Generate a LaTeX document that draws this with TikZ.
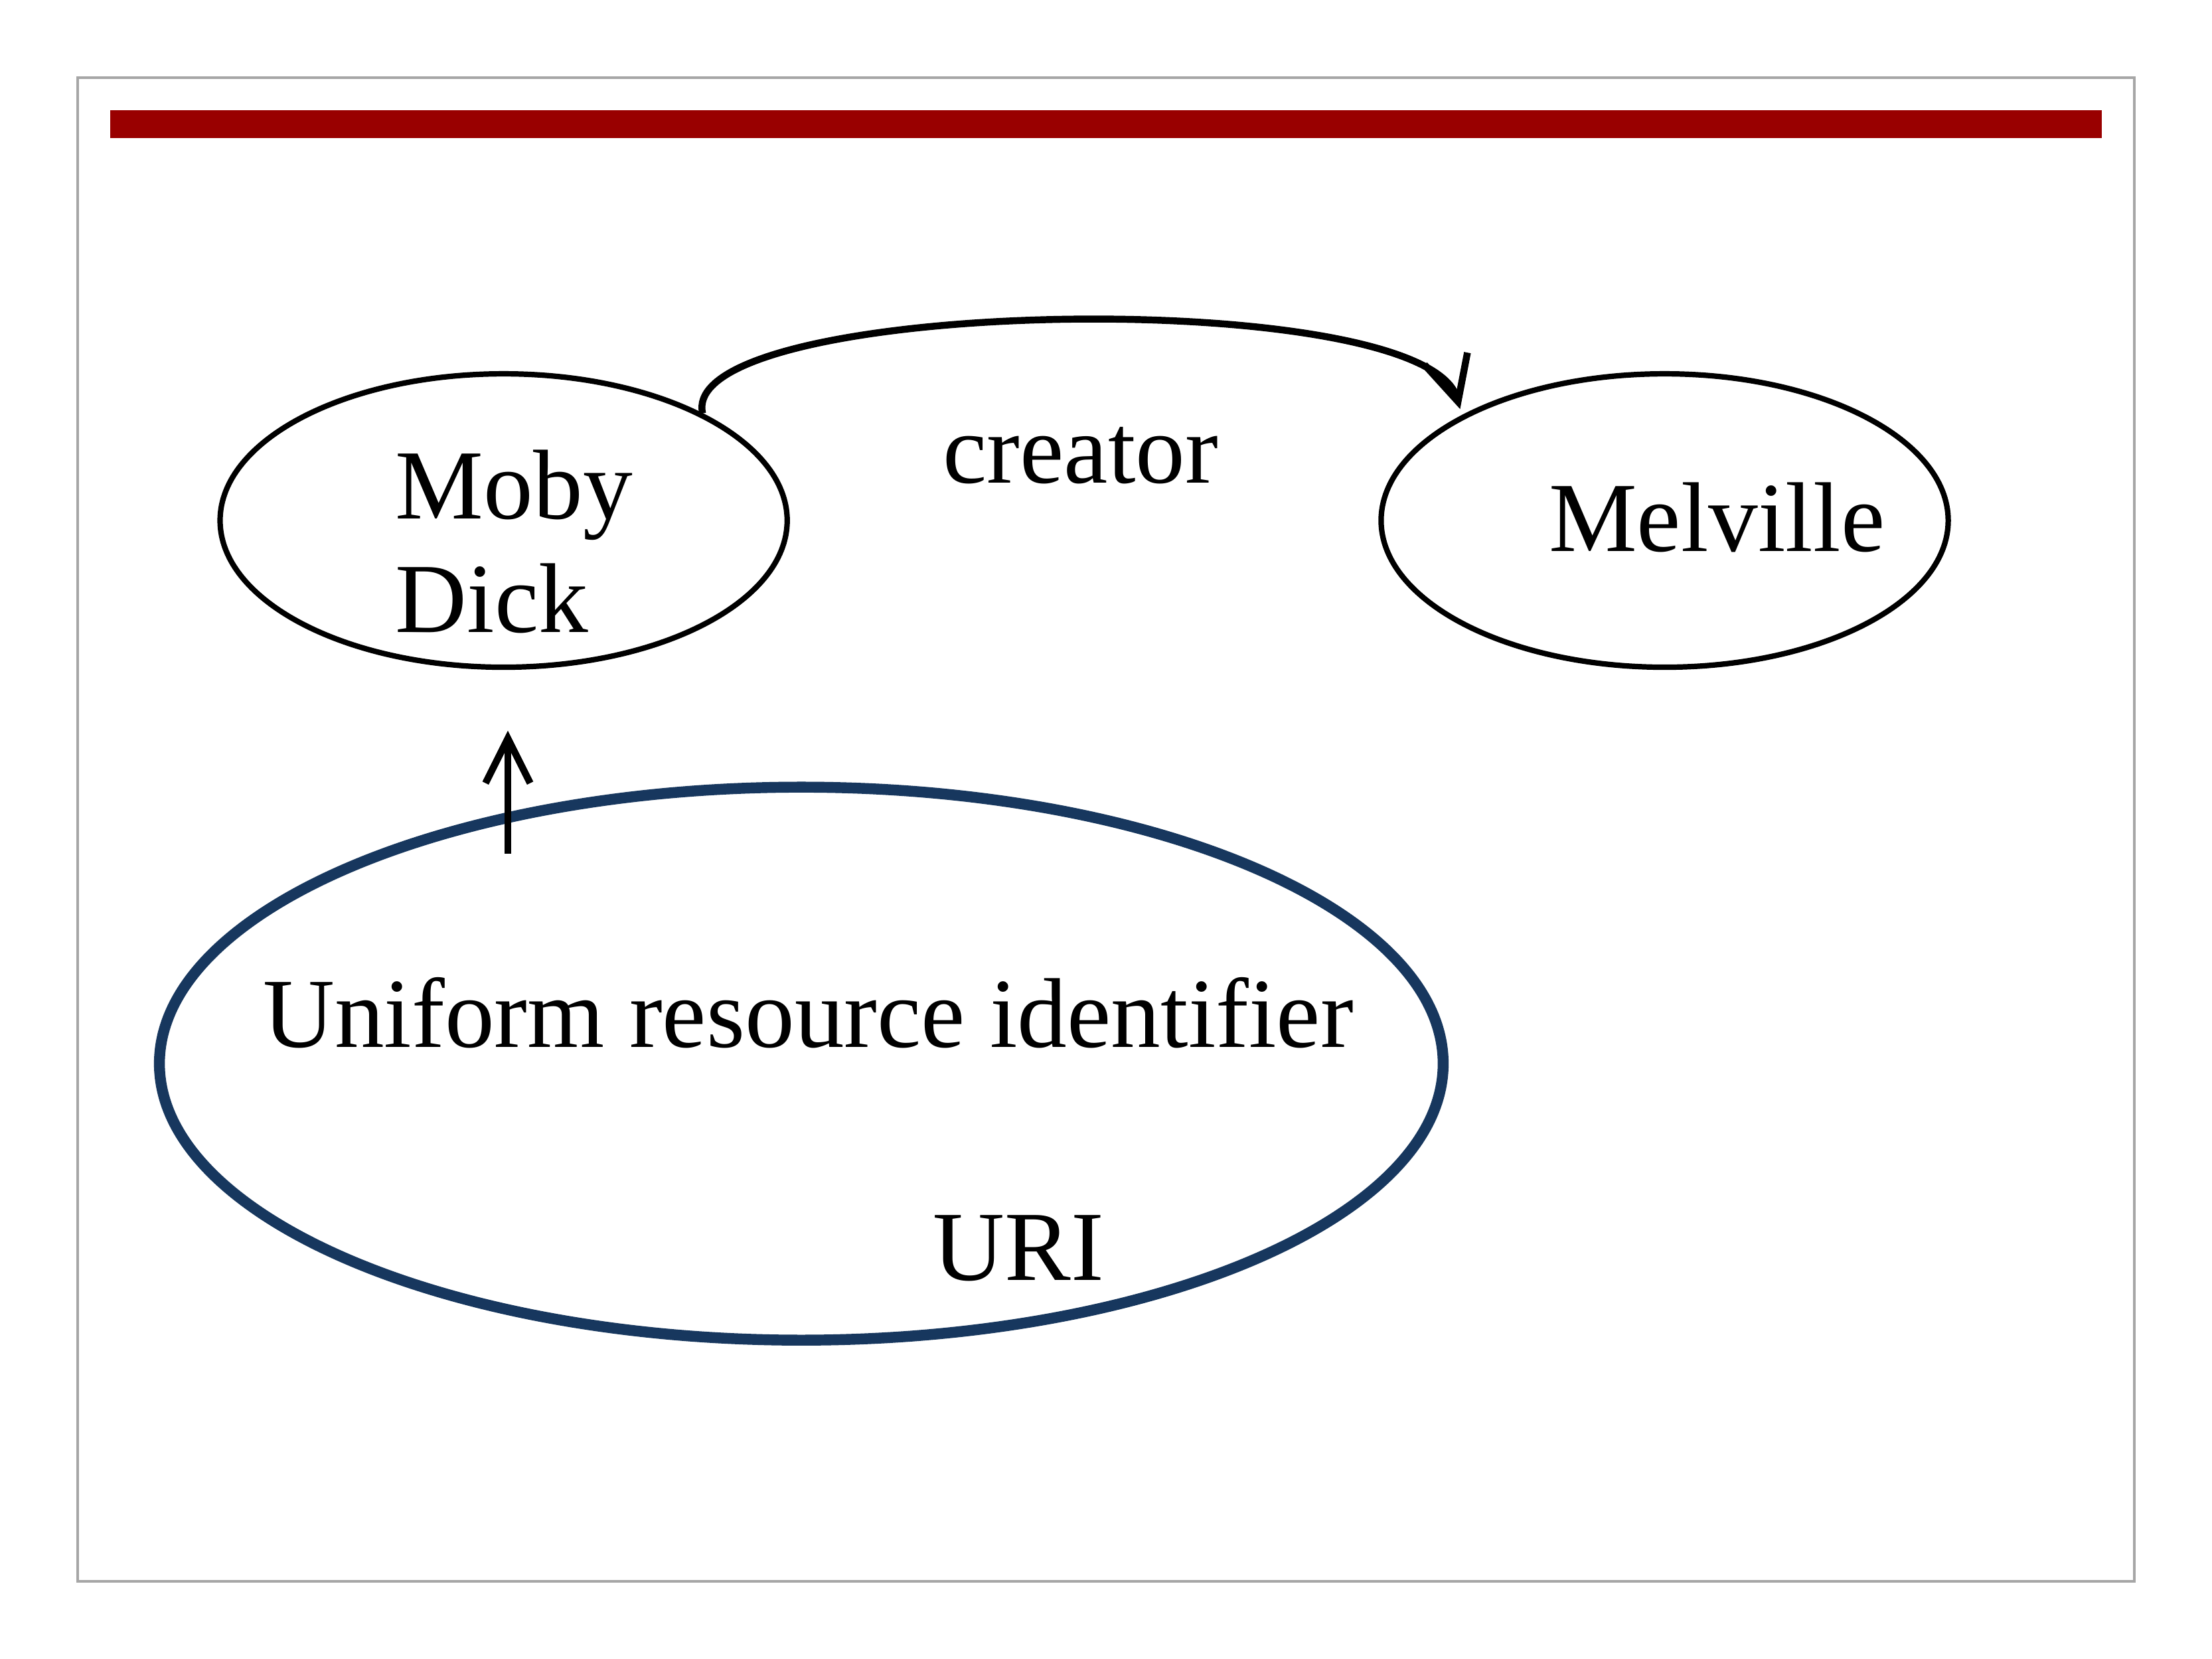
\documentclass[tikz,border=0pt]{standalone}
\usepackage{fontspec}
\setmainfont{Liberation Serif}
\usetikzlibrary{arrows.meta}
\definecolor{barred}{HTML}{990000}
\definecolor{uriblue}{HTML}{17375E}
\tikzset{
 lbl/.style={font=\fontsize{20}{23}\selectfont},
 conn/.style={line width=1.4pt,-{Straight Barb[length=9pt,width=9pt]}}
}
\begin{document}
\begin{tikzpicture}[x=1cm,y=1cm]
\fill[white] (0,0) rectangle (15.68,11.76);
\useasboundingbox (0,0) rectangle (15.68,11.76);
\draw[gray!70,line width=0.6pt] (0.55,0.55) rectangle (15.13,11.21);
\fill[barred] (0.78,10.78) rectangle (14.90,10.98);
% Moby Dick
\draw[line width=1.1pt] (3.57,8.07) ellipse [x radius=2.01,y radius=1.04];
\node[lbl,align=left,anchor=west] (moby) at (2.68,7.92) {Moby\\Dick};
\coordinate (mobyTR) at (4.98,8.83);
\coordinate (mobyBot) at (3.60,6.58);
% Melville
\draw[line width=1.1pt] (11.80,8.07) ellipse [x radius=2.01,y radius=1.04];
\node[lbl] (mel) at (12.17,8.09) {Melville};
\coordinate (melTL) at (10.35,8.86);
% creator
\node[lbl] (cre) at (7.66,8.53) {creator};
\draw[conn] (mobyTR) .. controls (4.80,9.65) and (10.10,9.75) .. (melTL);
% URI
\draw[uriblue,line width=2.2pt] (5.68,4.22) ellipse [x radius=4.55,y radius=1.96];
\node[lbl] (uri1) at (5.73,4.58) {Uniform resource identifier};
\node[lbl] (uri2) at (7.22,2.91) {URI};
\coordinate (arrBase) at (3.60,5.71);
\draw[conn] (arrBase) -- (mobyBot);
\end{tikzpicture}
\end{document}
